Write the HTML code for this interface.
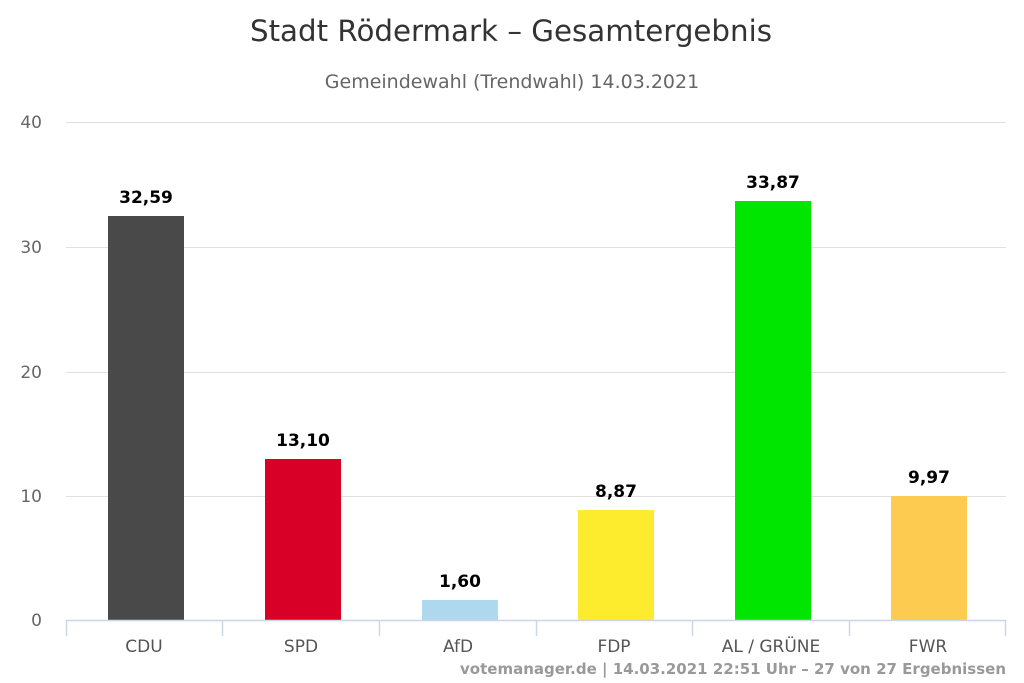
<!DOCTYPE html>
<html><head><meta charset="utf-8"><style>html,body{margin:0;padding:0;background:#fff}svg{display:block}</style></head>
<body>
<svg width="1024" height="683" viewBox="0 0 1024 683" xmlns="http://www.w3.org/2000/svg" font-family="'DejaVu Sans','Liberation Sans',sans-serif">
<text x="511" y="41" text-anchor="middle" font-size="29.3" fill="#333">Stadt Rödermark – Gesamtergebnis</text>
<text x="512" y="88" text-anchor="middle" font-size="19" fill="#666">Gemeindewahl (Trendwahl) 14.03.2021</text>
<g stroke="#e0e0e0" stroke-width="1">
<line x1="66" x2="1006" y1="122.5" y2="122.5"/>
<line x1="66" x2="1006" y1="247.5" y2="247.5"/>
<line x1="66" x2="1006" y1="372.5" y2="372.5"/>
<line x1="66" x2="1006" y1="496.5" y2="496.5"/>
</g>
<g font-size="17" fill="#666" text-anchor="end">
<text x="42" y="128">40</text><text x="42" y="253">30</text><text x="42" y="378">20</text><text x="42" y="502">10</text><text x="42" y="626">0</text>
</g>
<rect x="108" y="216" width="76" height="404" fill="#494949"/>
<rect x="265" y="459" width="76" height="161" fill="#d80027"/>
<rect x="422" y="600" width="76" height="20" fill="#add8ed"/>
<rect x="578" y="510" width="76" height="110" fill="#fcec2d"/>
<rect x="735" y="201" width="76" height="419" fill="#00e600"/>
<rect x="891" y="496" width="76" height="124" fill="#fdcb4f"/>
<g stroke="#ccd6eb" stroke-width="1.5">
<line x1="66" x2="1006" y1="620.5" y2="620.5"/>
<line x1="66.5" x2="66.5" y1="620" y2="636"/><line x1="222.5" x2="222.5" y1="620" y2="636"/><line x1="379.5" x2="379.5" y1="620" y2="636"/><line x1="536.5" x2="536.5" y1="620" y2="636"/><line x1="692.5" x2="692.5" y1="620" y2="636"/><line x1="849.5" x2="849.5" y1="620" y2="636"/><line x1="1005.5" x2="1005.5" y1="620" y2="636"/>
</g>
<g font-size="17" fill="#000" font-weight="bold" text-anchor="middle">
<text x="146" y="203">32,59</text><text x="303" y="446">13,10</text><text x="460" y="587">1,60</text><text x="616" y="497">8,87</text><text x="773" y="188">33,87</text><text x="929" y="483">9,97</text>
</g>
<g font-size="17" fill="#555" text-anchor="middle">
<text x="144" y="652">CDU</text><text x="301" y="652">SPD</text><text x="458" y="652">AfD</text><text x="614" y="652">FDP</text><text x="771" y="652">AL / GRÜNE</text><text x="928" y="652">FWR</text>
</g>
<text x="1006" y="674" text-anchor="end" font-size="15" font-weight="bold" fill="#999">votemanager.de | 14.03.2021 22:51 Uhr – 27 von 27 Ergebnissen</text>
</svg>
</body></html>
